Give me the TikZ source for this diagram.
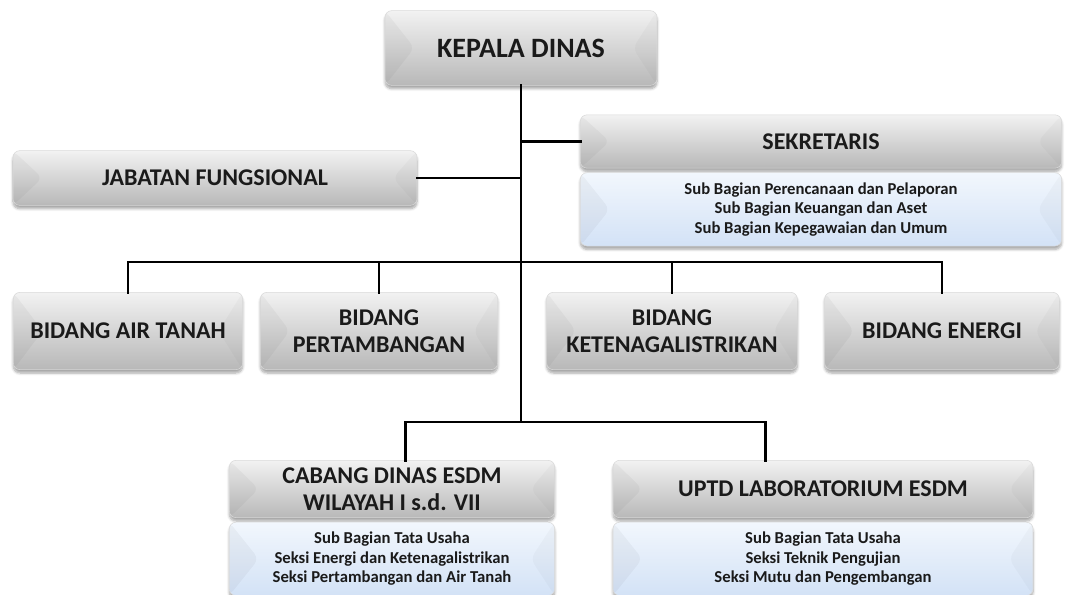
\documentclass[tikz,border=0pt]{standalone}
\usepackage{fontspec}
\setmainfont{Carlito}
\usepackage{tikz}
\usetikzlibrary{positioning,shadows.blur}

\definecolor{boxtop}{HTML}{F2F2F2}
\definecolor{boxbot}{HTML}{B8B8B8}
\definecolor{subtop}{HTML}{F2F7FD}
\definecolor{subbot}{HTML}{D3E2F6}
\definecolor{ink}{HTML}{1A1A1A}

\begin{document}
\begin{tikzpicture}[
  x=0.75pt, y=-0.75pt,
  unit/.style={rounded corners=5pt, top color=boxtop, bottom color=boxbot, draw=white!85!black,
    line width=0.4pt, text=ink, align=center, inner sep=2pt,
    font=\bfseries\fontsize{18}{20}\selectfont,
    blur shadow={shadow xshift=0pt, shadow yshift=-2.5pt, shadow blur steps=6, shadow opacity=35},
    path picture={
      \fill[black,opacity=0.035] (path picture bounding box.north west) -- ([xshift=22pt]path picture bounding box.west) -- (path picture bounding box.south west) -- cycle;
      \fill[black,opacity=0.025] (path picture bounding box.north east) -- ([xshift=-18pt]path picture bounding box.east) -- (path picture bounding box.south east) -- cycle;
    }},
  subunit/.style={unit, top color=subtop, bottom color=subbot, font=\bfseries\fontsize{12.5}{14.5}\selectfont},
  conn/.style={line width=2.2pt, line cap=rect}
]
  \useasboundingbox (0,0) rectangle (1065,595);

  % Pimpinan
  \node[unit, minimum width=204pt, minimum height=56pt, font=\bfseries\fontsize{21}{24}\selectfont] (kepala) at (521,48) {KEPALA DINAS};
  \node[unit, minimum width=361pt, minimum height=40pt] (sekr) at (821,141.5) {SEKRETARIS};
  \node[subunit, minimum width=361pt, minimum height=55pt, below=3pt of sekr] (sekrsub)
    {Sub Bagian Perencanaan dan Pelaporan\\Sub Bagian Keuangan dan Aset\\Sub Bagian Kepegawaian dan Umum};
  \node[unit, minimum width=303pt, minimum height=41pt] (jab) at (215,178) {JABATAN FUNGSIONAL};

  % Bidang
  \node[unit, minimum width=172pt, minimum height=58pt] (air) at (128,331) {BIDANG AIR TANAH};
  \node[unit, minimum width=178pt, minimum height=58pt] (perta) at (379,331) {BIDANG\\PERTAMBANGAN};
  \node[unit, minimum width=188pt, minimum height=58pt] (keten) at (672,331) {BIDANG\\KETENAGALISTRIKAN};
  \node[unit, minimum width=176pt, minimum height=58pt] (energi) at (942,331) {BIDANG ENERGI};

  % UPT / Cabang
  \node[unit, minimum width=244pt, minimum height=43pt] (cabang) at (392,489) {CABANG DINAS ESDM\\WILAYAH I s.d. VII};
  \node[subunit, minimum width=244pt, minimum height=55pt, below=3pt of cabang] (cabsub)
    {Sub Bagian Tata Usaha\\Seksi Energi dan Ketenagalistrikan\\Seksi Pertambangan dan Air Tanah};
  \node[unit, minimum width=315pt, minimum height=43pt] (uptd) at (823,489) {UPTD LABORATORIUM ESDM};
  \node[subunit, minimum width=315pt, minimum height=55pt, below=3pt of uptd] (uptdsub)
    {Sub Bagian Tata Usaha\\Seksi Teknik Pengujian\\Seksi Mutu dan Pengembangan};

  % Garis komando
  \coordinate (busA) at (521,262);
  \coordinate (busB) at (521,422);
  \draw[conn] (kepala.south) -- (busB);
  \draw[conn] (sekr.west) -- (sekr.west -| kepala.south);
  \draw[conn] (jab.east) -- (jab.east -| kepala.south);
  \draw[conn] (air.north) |- (busA) -| (energi.north);
  \draw[conn] (perta.north) -- (perta.north |- busA);
  \draw[conn] (keten.north) -- (keten.north |- busA);
  \draw[conn] ([xshift=10pt]cabang.north) |- (busB) -| ([xshift=-43pt]uptd.north);
\end{tikzpicture}
\end{document}
